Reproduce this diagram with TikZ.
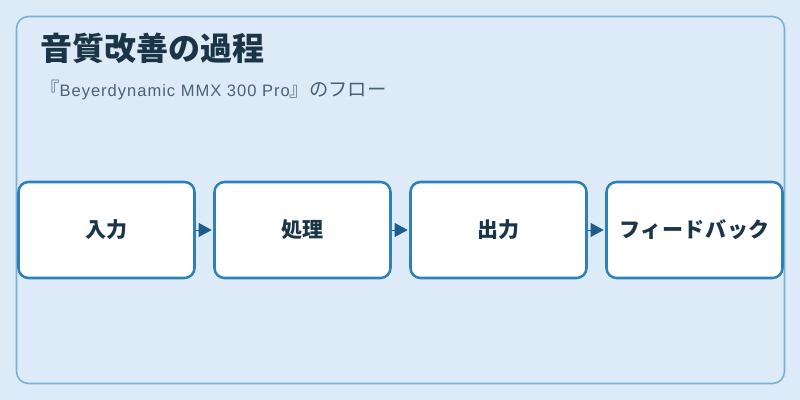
\documentclass[tikz,border=0pt]{standalone}
\usepackage{fontspec}
\setmainfont{Noto Sans CJK JP}
\newfontfamily\latinf[LetterSpace=6]{Liberation Sans}
\newfontfamily\labelf[LetterSpace=3]{Noto Sans CJK JP}
\usetikzlibrary{arrows.meta}
\definecolor{bgc}{RGB}{220,235,247}
\definecolor{panelc}{RGB}{122,176,212}
\definecolor{boxc}{RGB}{46,128,185}
\definecolor{arrc}{RGB}{31,92,140}
\definecolor{titlec}{RGB}{26,52,72}
\definecolor{subc}{RGB}{74,98,117}
\tikzset{
  stepbox/.style={draw=boxc, fill=white, line width=1.9pt, rounded corners=7.5pt,
    minimum width=132pt, minimum height=72pt, inner sep=0pt,
    font=\labelf\fontsize{15.75pt}{18pt}\selectfont\bfseries, text=titlec},
  flow/.style={draw=arrc, line width=0.6pt, -{Triangle[length=9.75pt,width=10.5pt]}, shorten >=1.2pt, arrc}
}
\newcommand{\lbl}[1]{\raisebox{-1.5pt}{#1}}
\begin{document}
\begin{tikzpicture}[x=0.75pt,y=-0.75pt]
\useasboundingbox (0,0) rectangle (800,400);
\fill[bgc] (0,0) rectangle (800,400);
\draw[panelc, line width=1.2pt, rounded corners=9pt] (16.5,16.5) rectangle (784.5,383.5);
\node[anchor=base west, inner sep=0pt, text=titlec, font=\fontsize{24pt}{28pt}\selectfont\bfseries] (title) at (40,60) {音質改善の過程};
\node[anchor=base west, inner sep=0pt, text=subc, font=\fontsize{14.5pt}{16pt}\selectfont] (sub) at (40,96.5) {『{\latinf\fontsize{12.4pt}{14pt}\selectfont Beyerdynamic MMX 300 Pro}』のフロー};
\node[stepbox] (b1) at (106.5,230) {\lbl{入力}};
\node[stepbox] (b2) at (302.5,230) {\lbl{処理}};
\node[stepbox] (b3) at (498.5,230) {\lbl{出力}};
\node[stepbox] (b4) at (694.5,230) {\lbl{フィードバック}};
\draw[flow] (b1.east) -- (b2.west);
\draw[flow] (b2.east) -- (b3.west);
\draw[flow] (b3.east) -- (b4.west);
\end{tikzpicture}
\end{document}
